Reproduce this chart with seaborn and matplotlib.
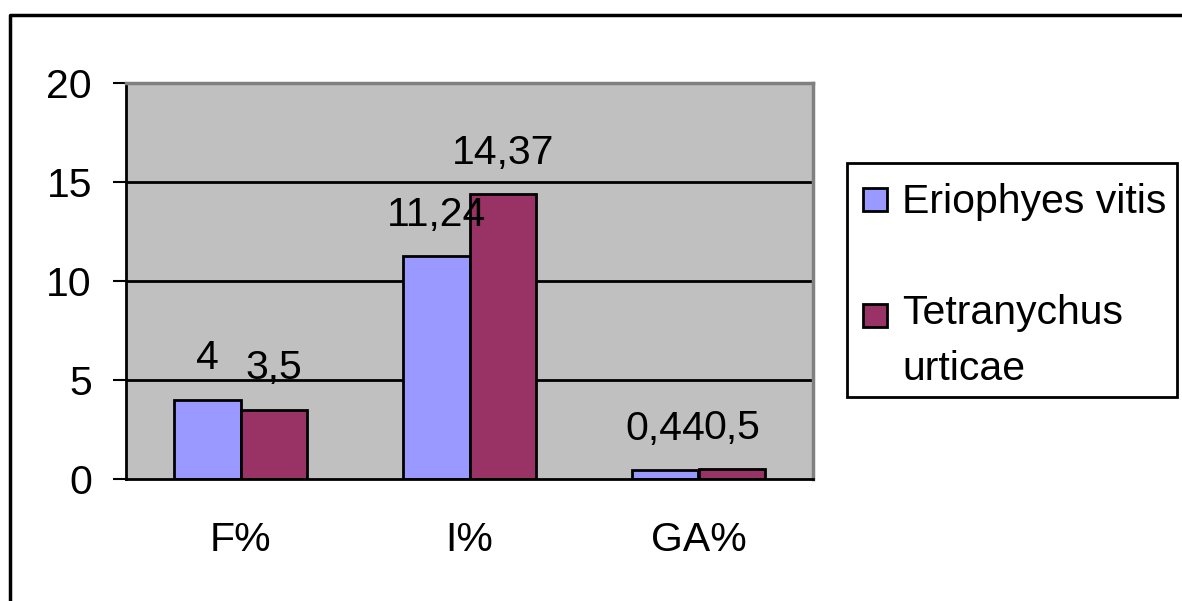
import matplotlib
matplotlib.use("Agg")
import matplotlib.pyplot as plt
from matplotlib.lines import Line2D
from matplotlib.patches import Rectangle
import seaborn as sns
import pandas as pd

# Data
categories = ["F%", "I%", "GA%"]
species = ["Eriophyes vitis", "Tetranychus\nurticae"]
eriophyes_vitis = [4, 11.24, 0.44]
tetranychus_urticae = [3.5, 14.37, 0.5]
y_ticks = [0, 5, 10, 15, 20]

colors = ["#9999FF", "#993366"]
plot_bg = "#C0C0C0"
border_gray = "#808080"

sns.set_style("white")
plt.rcParams["font.family"] = ["Liberation Sans", "DejaVu Sans"]
plt.rcParams["text.color"] = "black"
plt.rcParams["xtick.color"] = "black"
plt.rcParams["ytick.color"] = "black"
plt.rcParams["xtick.labelcolor"] = "black"
plt.rcParams["ytick.labelcolor"] = "black"
FS = 29.5

W, H = 1182, 601
fig = plt.figure(figsize=(W / 100, H / 100), dpi=100)


def fx(px):
    return px / W


def fy(py):
    return 1 - py / H


ax = fig.add_axes([fx(126), fy(479), fx(813) - fx(126), fy(83) - fy(479)])
ax.set_facecolor(plot_bg)

df = pd.DataFrame({
    "category": categories * 2,
    "value": eriophyes_vitis + tetranychus_urticae,
    "species": [species[0]] * 3 + [species[1]] * 3,
})

# horizontal grid lines behind the bars
for yv in y_ticks[1:-1]:
    ax.axhline(yv, color="black", lw=2, zorder=0.5)

sns.barplot(data=df, x="category", y="value", hue="species", order=categories,
            hue_order=species, palette=colors, width=0.58, edgecolor="black",
            linewidth=2, saturation=1, legend=False, ax=ax, zorder=2)

ax.set_xlim(-0.5, 2.5)
ax.set_ylim(0, 20)
ax.set_yticks(y_ticks)
ax.set_xlabel("")
ax.set_ylabel("")

# category labels centred, tick marks on category boundaries
ax.set_xticks(range(len(categories)))
ax.set_xticklabels(categories, fontsize=FS, color="black")
ax.set_xticks([-0.5, 0.5, 1.5, 2.5], minor=True)
ax.tick_params(axis="x", which="major", length=0, pad=30)
ax.tick_params(axis="x", which="minor", length=9.5, width=1.5, direction="out",
               color="black")
ax.tick_params(axis="y", which="major", length=9.5, width=1.5, direction="out",
               pad=15, labelsize=FS, color="black", labelcolor="black", left=True)

for side in ["left", "bottom"]:
    ax.spines[side].set_color("black")
    ax.spines[side].set_linewidth(2)
for side in ["top", "right"]:
    ax.spines[side].set_color(border_gray)
    ax.spines[side].set_linewidth(2.5)
    ax.spines[side].set_visible(True)

# value labels above each bar, with decimal comma
for container, vals in zip(ax.containers, [eriophyes_vitis, tetranychus_urticae]):
    for bar, v in zip(container, vals):
        x = bar.get_x() + bar.get_width() / 2
        ax.annotate(str(v).replace(".", ","), (x, v), xytext=(0, 22),
                    textcoords="offset points", ha="center", va="baseline",
                    fontsize=FS, color="black", zorder=3)

# legend box
fig.add_artist(Rectangle((fx(847), fy(397)), fx(1177) - fx(847), fy(163) - fy(397),
                         transform=fig.transFigure, facecolor="white",
                         edgecolor="black", lw=2))
# (square top, square bottom, baseline of the label's last line)
legend_rows = [(188, 211, 213), (304, 327, 380)]
for (top, bot, base), col, name in zip(legend_rows, colors, species):
    fig.add_artist(Rectangle((fx(863), fy(bot)), fx(887) - fx(863), fy(top) - fy(bot),
                             transform=fig.transFigure, facecolor=col,
                             edgecolor="black", lw=2))
    t = fig.text(fx(902), fy(base), name, ha="left", va="baseline",
                 fontsize=FS, color="black")
    t.set_linespacing(1.6)

# outer chart frame
fig.add_artist(Line2D([fx(10), fx(10), fx(W + 20)], [fy(H + 20), fy(15), fy(15)],
                      transform=fig.transFigure, color="black", lw=2.5))

fig.savefig("out.png", dpi=100)
